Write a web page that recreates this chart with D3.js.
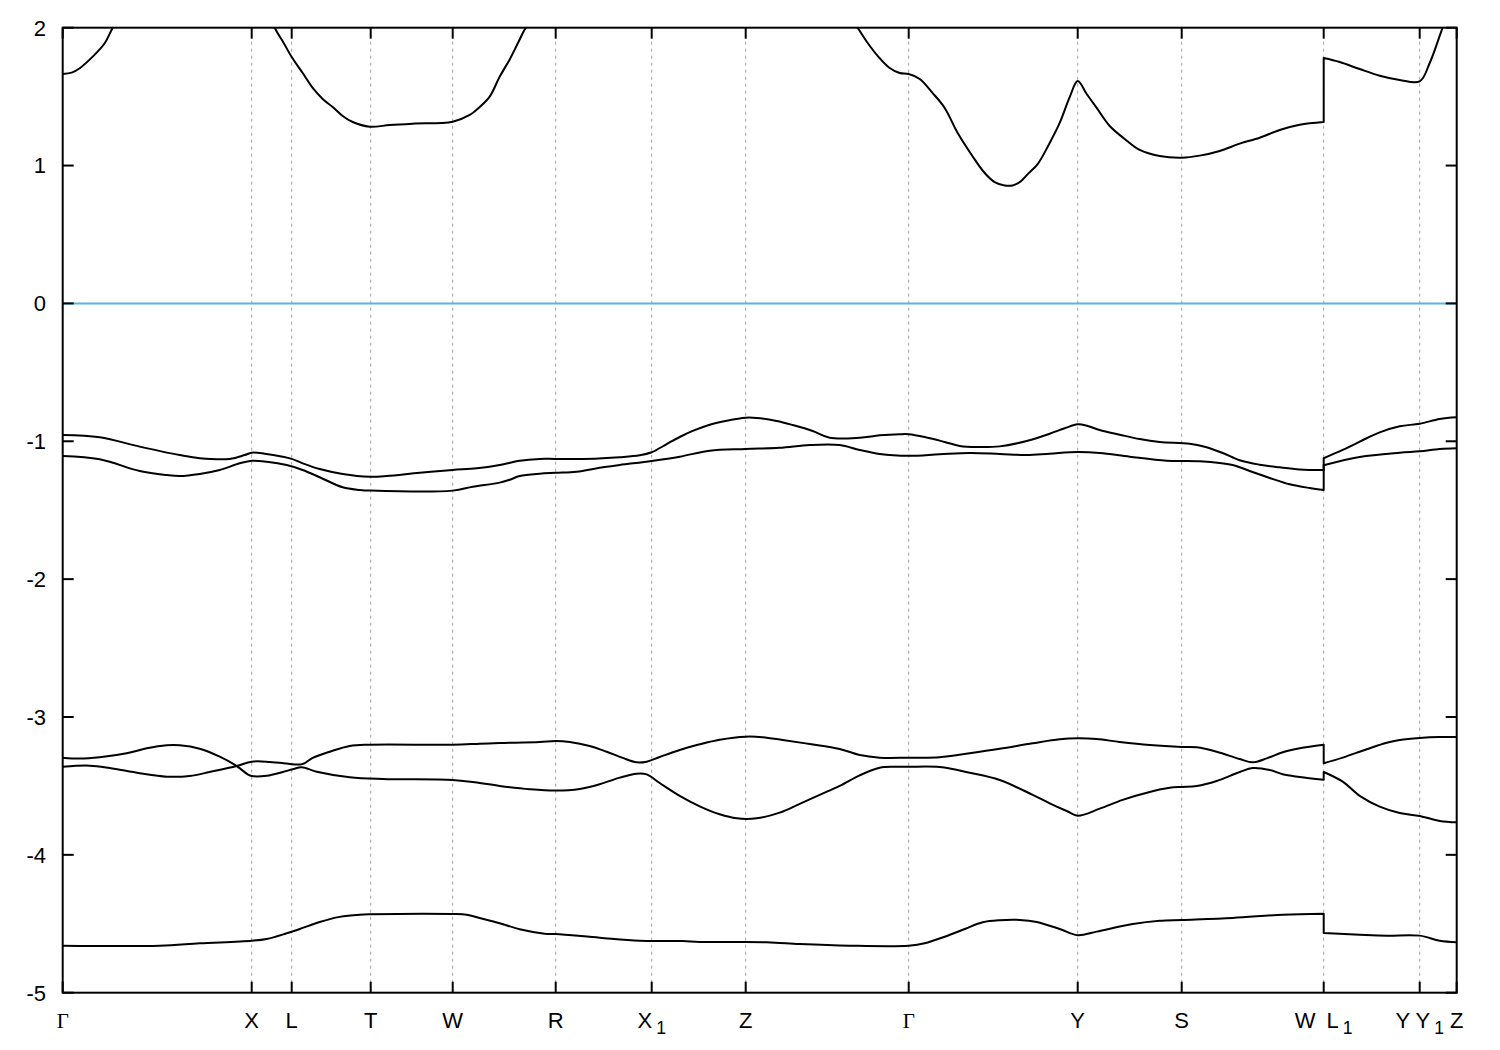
<!DOCTYPE html>
<html><head><meta charset="utf-8">
<script src="https://cdn.jsdelivr.net/npm/d3@7"></script>
<style>body{margin:0;background:#fff} svg{display:block}</style>
</head><body>
<svg id="chart" width="1500" height="1050"></svg>
<script>
// k-path ticks (path distance) and labels
const kTicks = [0, 0.189, 0.229, 0.308, 0.390, 0.493, 0.589, 0.683, 0.846, 1.015, 1.119, 1.261, 1.357, 1.394];
const kLabels = ["Γ", "X", "L", "T", "W", "R", "X_1", "Z", "Γ", "Y", "S", "W\u2002L_1", "Y Y_1", "Z"];
const eTicks = [-5, -4, -3, -2, -1, 0, 1, 2];
const eRange = [-5, 2];
const fermiLevel = 0;

// bands: [k, E] pairs (duplicate k at W|L1 = discontinuity)
const bandA = [[0,-4.659],[0.097,-4.659],[0.137,-4.642],[0.189,-4.623],[0.204,-4.610],[0.224,-4.569],[0.237,-4.538],[0.257,-4.487],[0.277,-4.450],[0.297,-4.434],[0.308,-4.431],[0.390,-4.429],[0.404,-4.434],[0.417,-4.458],[0.437,-4.496],[0.457,-4.540],[0.482,-4.572],[0.493,-4.574],[0.537,-4.601],[0.577,-4.623],[0.620,-4.625],[0.637,-4.632],[0.704,-4.634],[0.737,-4.647],[0.787,-4.659],[0.846,-4.659],[0.862,-4.642],[0.882,-4.594],[0.902,-4.538],[0.920,-4.489],[0.937,-4.474],[0.957,-4.472],[0.974,-4.487],[0.997,-4.538],[1.015,-4.583],[1.034,-4.557],[1.070,-4.502],[1.097,-4.478],[1.119,-4.472],[1.170,-4.458],[1.220,-4.434],[1.261,-4.427],[1.261,-4.567],[1.297,-4.579],[1.324,-4.586],[1.357,-4.586],[1.377,-4.623],[1.394,-4.634]];

const bandB = [[0,-3.295],[0.017,-3.302],[0.037,-3.292],[0.064,-3.263],[0.084,-3.227],[0.104,-3.205],[0.117,-3.205],[0.137,-3.230],[0.157,-3.288],[0.174,-3.356],[0.185,-3.416],[0.189,-3.428],[0.204,-3.426],[0.220,-3.399],[0.230,-3.379],[0.239,-3.365],[0.254,-3.397],[0.287,-3.437],[0.320,-3.450],[0.390,-3.457],[0.412,-3.474],[0.437,-3.500],[0.467,-3.524],[0.493,-3.534],[0.517,-3.522],[0.537,-3.488],[0.557,-3.440],[0.574,-3.411],[0.584,-3.416],[0.597,-3.479],[0.617,-3.572],[0.637,-3.648],[0.657,-3.706],[0.674,-3.735],[0.694,-3.735],[0.717,-3.694],[0.737,-3.630],[0.757,-3.565],[0.777,-3.500],[0.797,-3.423],[0.817,-3.368],[0.832,-3.361],[0.846,-3.361],[0.877,-3.363],[0.907,-3.404],[0.937,-3.457],[0.970,-3.565],[0.987,-3.626],[1.004,-3.682],[1.015,-3.716],[1.037,-3.665],[1.060,-3.601],[1.087,-3.544],[1.107,-3.514],[1.119,-3.507],[1.134,-3.500],[1.154,-3.464],[1.177,-3.399],[1.190,-3.370],[1.207,-3.384],[1.220,-3.416],[1.237,-3.435],[1.261,-3.455],[1.261,-3.399],[1.280,-3.469],[1.297,-3.572],[1.317,-3.650],[1.337,-3.696],[1.357,-3.718],[1.377,-3.754],[1.394,-3.764]];

const bandC = [[0,-3.361],[0.027,-3.353],[0.047,-3.370],[0.077,-3.408],[0.104,-3.433],[0.127,-3.428],[0.147,-3.399],[0.174,-3.356],[0.189,-3.324],[0.207,-3.326],[0.224,-3.338],[0.232,-3.345],[0.240,-3.341],[0.250,-3.297],[0.267,-3.252],[0.287,-3.210],[0.308,-3.201],[0.390,-3.201],[0.417,-3.194],[0.437,-3.189],[0.477,-3.181],[0.493,-3.174],[0.507,-3.181],[0.527,-3.210],[0.544,-3.252],[0.560,-3.297],[0.574,-3.329],[0.584,-3.324],[0.597,-3.290],[0.617,-3.239],[0.637,-3.198],[0.657,-3.165],[0.683,-3.143],[0.700,-3.147],[0.720,-3.167],[0.747,-3.196],[0.777,-3.232],[0.797,-3.276],[0.817,-3.295],[0.846,-3.295],[0.877,-3.292],[0.907,-3.263],[0.937,-3.231],[0.970,-3.191],[0.997,-3.162],[1.015,-3.155],[1.034,-3.160],[1.057,-3.181],[1.087,-3.203],[1.119,-3.217],[1.134,-3.220],[1.154,-3.252],[1.177,-3.305],[1.190,-3.329],[1.204,-3.300],[1.220,-3.256],[1.237,-3.227],[1.261,-3.201],[1.261,-3.335],[1.280,-3.295],[1.304,-3.234],[1.324,-3.187],[1.337,-3.167],[1.357,-3.152],[1.377,-3.145],[1.394,-3.145]];

const bandD = [[0,-0.954],[0.037,-0.971],[0.077,-1.039],[0.117,-1.100],[0.137,-1.123],[0.167,-1.128],[0.182,-1.100],[0.189,-1.083],[0.202,-1.090],[0.220,-1.112],[0.229,-1.128],[0.240,-1.160],[0.257,-1.201],[0.280,-1.237],[0.307,-1.257],[0.324,-1.252],[0.357,-1.228],[0.390,-1.208],[0.414,-1.196],[0.437,-1.172],[0.457,-1.141],[0.477,-1.128],[0.493,-1.128],[0.532,-1.126],[0.557,-1.116],[0.577,-1.102],[0.589,-1.080],[0.604,-1.020],[0.617,-0.969],[0.630,-0.925],[0.647,-0.880],[0.664,-0.851],[0.683,-0.829],[0.694,-0.831],[0.714,-0.853],[0.730,-0.882],[0.750,-0.925],[0.767,-0.974],[0.797,-0.974],[0.817,-0.957],[0.837,-0.949],[0.846,-0.949],[0.862,-0.969],[0.882,-1.005],[0.897,-1.034],[0.915,-1.042],[0.937,-1.037],[0.964,-0.998],[0.987,-0.945],[1.002,-0.906],[1.015,-0.877],[1.025,-0.889],[1.037,-0.918],[1.057,-0.952],[1.077,-0.984],[1.097,-1.005],[1.127,-1.018],[1.142,-1.040],[1.160,-1.085],[1.177,-1.138],[1.197,-1.170],[1.217,-1.189],[1.237,-1.204],[1.261,-1.208],[1.261,-1.123],[1.280,-1.063],[1.304,-0.978],[1.317,-0.935],[1.337,-0.891],[1.357,-0.873],[1.377,-0.838],[1.394,-0.826]];

const bandE = [[0,-1.107],[0.037,-1.131],[0.077,-1.216],[0.104,-1.245],[0.117,-1.252],[0.137,-1.237],[0.157,-1.208],[0.177,-1.160],[0.189,-1.141],[0.204,-1.148],[0.224,-1.172],[0.240,-1.208],[0.257,-1.261],[0.280,-1.334],[0.297,-1.353],[0.308,-1.358],[0.390,-1.358],[0.410,-1.330],[0.437,-1.300],[0.447,-1.279],[0.457,-1.252],[0.477,-1.235],[0.493,-1.229],[0.514,-1.221],[0.537,-1.192],[0.557,-1.172],[0.589,-1.143],[0.617,-1.112],[0.647,-1.068],[0.683,-1.056],[0.717,-1.047],[0.747,-1.027],[0.777,-1.027],[0.797,-1.063],[0.817,-1.092],[0.846,-1.105],[0.877,-1.094],[0.907,-1.085],[0.937,-1.092],[0.964,-1.100],[0.987,-1.090],[1.015,-1.078],[1.037,-1.085],[1.067,-1.112],[1.104,-1.141],[1.137,-1.145],[1.170,-1.172],[1.187,-1.216],[1.207,-1.266],[1.227,-1.312],[1.247,-1.339],[1.261,-1.353],[1.261,-1.174],[1.297,-1.114],[1.337,-1.083],[1.357,-1.073],[1.377,-1.056],[1.394,-1.051]];

const bandF = [[0,1.664],[0.009,1.674],[0.017,1.706],[0.030,1.790],[0.042,1.887],[0.050,2.0],[0.070,2.25],[0.100,2.45],[0.150,2.6],[0.189,2.4],[0.212,2.0],[0.221,1.889],[0.229,1.787],[0.240,1.671],[0.250,1.563],[0.260,1.483],[0.270,1.425],[0.280,1.360],[0.290,1.316],[0.307,1.282],[0.327,1.294],[0.350,1.304],[0.390,1.318],[0.407,1.367],[0.417,1.425],[0.427,1.500],[0.437,1.645],[0.447,1.770],[0.456,1.900],[0.463,2.0],[0.493,2.3],[0.550,2.6],[0.589,2.7],[0.683,2.8],[0.750,2.5],[0.795,2.0],[0.805,1.889],[0.815,1.795],[0.827,1.708],[0.837,1.671],[0.846,1.664],[0.857,1.628],[0.870,1.526],[0.882,1.418],[0.895,1.236],[0.909,1.077],[0.922,0.946],[0.932,0.880],[0.942,0.855],[0.950,0.856],[0.958,0.885],[0.966,0.945],[0.975,1.011],[0.987,1.164],[0.997,1.309],[1.007,1.497],[1.015,1.613],[1.024,1.519],[1.034,1.418],[1.047,1.287],[1.062,1.193],[1.077,1.113],[1.097,1.069],[1.119,1.057],[1.137,1.072],[1.157,1.106],[1.177,1.159],[1.197,1.202],[1.217,1.258],[1.237,1.296],[1.261,1.316],[1.261,1.780],[1.277,1.751],[1.297,1.700],[1.317,1.652],[1.337,1.621],[1.357,1.611],[1.367,1.744],[1.380,2.0],[1.394,2.25]];

const bands = [bandA, bandB, bandC, bandD, bandE, bandF];

const svg = d3.select("#chart");
svg.append("rect").attr("width",1500).attr("height",1050).attr("fill","#fff");
const L = 62.7, R = 1456.7, T = 27.7, B = 992.7;
const x = d3.scaleLinear().domain([kTicks[0], kTicks[kTicks.length-1]]).range([L, R]);
const y = d3.scaleLinear().domain(eRange).range([B, T]);

svg.append("defs").append("clipPath").attr("id","clip")
  .append("rect").attr("x",L).attr("y",T).attr("width",R-L).attr("height",B-T);

// grid
svg.append("g").selectAll("line").data(kTicks.slice(1,-1)).join("line")
  .attr("x1",d=>x(d)).attr("x2",d=>x(d)).attr("y1",T).attr("y2",B)
  .attr("stroke","#a0a0a0").attr("stroke-width",1).attr("stroke-dasharray","3,4");

// fermi line
svg.append("line").attr("x1",L).attr("x2",R).attr("y1",y(fermiLevel)).attr("y2",y(fermiLevel))
  .attr("stroke","#56b4e9").attr("stroke-width",2);

// bands: smooth within each continuous segment, straight vertical joins at discontinuities
const segLine = d3.line().x(d=>x(d[0])).y(d=>y(d[1])).curve(d3.curveCatmullRom.alpha(0.5));
function bandPath(pts) {
  const segs = [[pts[0]]];
  for (let i = 1; i < pts.length; i++) {
    if (pts[i][0] === pts[i-1][0]) segs.push([pts[i]]);
    else segs[segs.length-1].push(pts[i]);
  }
  return segs.map((s,i) => { const d = segLine(s); return i === 0 ? d : "L" + d.slice(1); }).join("");
}
svg.append("g").attr("clip-path","url(#clip)").selectAll("path").data(bands).join("path")
  .attr("d",bandPath).attr("fill","none").attr("stroke","#000").attr("stroke-width",2)
  .attr("stroke-linejoin","round");

// frame
svg.append("rect").attr("x",L).attr("y",T).attr("width",R-L).attr("height",B-T)
  .attr("fill","none").attr("stroke","#000").attr("stroke-width",2);

// ticks
const tl = 11;
const tg = svg.append("g").attr("stroke","#000").attr("stroke-width",2);
eTicks.forEach(v=>{
  tg.append("line").attr("x1",L).attr("x2",L+tl).attr("y1",y(v)).attr("y2",y(v));
  tg.append("line").attr("x1",R).attr("x2",R-tl).attr("y1",y(v)).attr("y2",y(v));
});
kTicks.forEach(v=>{
  tg.append("line").attr("x1",x(v)).attr("x2",x(v)).attr("y1",B).attr("y2",B-tl);
  tg.append("line").attr("x1",x(v)).attr("x2",x(v)).attr("y1",T).attr("y2",T+tl);
});

const sans = "'Liberation Sans', Arial, Helvetica, sans-serif";
svg.append("g").selectAll("text").data(eTicks).join("text")
  .attr("x",46).attr("y",d=>y(d)).attr("dy","0.36em").attr("text-anchor","end")
  .attr("font-family",sans).attr("font-size",22).text(d=>d);

const xl = svg.append("g");
kTicks.forEach((v,i)=>{
  const lab = kLabels[i];
  const t = xl.append("text").attr("x",x(v)).attr("y",1027.7).attr("text-anchor","middle")
    .attr("font-size",22).style("white-space","pre");
  if (lab === "Γ") {
    t.attr("font-family","'Liberation Serif','DejaVu Serif',serif").attr("font-size",21).text(lab);
    return;
  }
  t.attr("font-family",sans);
  const parts = lab.split("_");
  t.append("tspan").text(parts[0]);
  if (parts.length > 1) {
    t.append("tspan").attr("dx",4).attr("dy",6.5).attr("font-size",17.6).text(parts[1]);
  }
});
</script>
</body></html>
